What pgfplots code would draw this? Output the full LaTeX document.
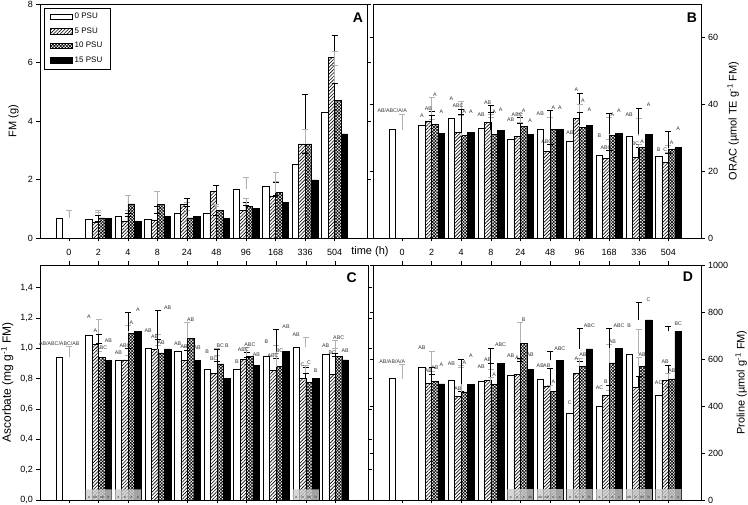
\documentclass[border=0pt]{standalone}
\usepackage{fontspec}
\setmainfont{Liberation Sans}
\usepackage{pgfplots}
\pgfplotsset{compat=1.18}
\usepackage{pgfplotstable}
\usetikzlibrary{patterns.meta}

\pgfplotstableread{
x  w    wt   h    ht   c    ct   b    bt
0  0.67 0.94 0    0    0    0    0    0
1  0.65 0.94 0.53 0.58 0.69 0.87 0.66 0.76
2  0.74 0.96 0.58 0.74 1.17 1.45 0.57 0.85
3  0.65 0.83 0.62 0.83 1.15 1.60 0.74 1.08
4  0.86 1.21 1.16 1.36 0.69 0.94 0.75 1.08
5  0.85 1.08 1.60 1.81 0.95 1.16 0.68 0.78
6  1.68 2.08 0.95 1.23 1.09 1.35 1.00 1.12
7  1.77 2.25 1.42 1.90 1.55 1.94 1.21 1.45
8  2.53 2.93 3.22 4.91 3.22 3.72 1.99 2.89
9  4.30 5.90 6.18 6.94 4.70 6.38 3.56 5.30
}\dataA

\pgfplotstableread{
x w wt h ht c ct b bt lw lh lc lb
0 32.4 37.0 0 0 0 0 0 0 AB/ABC/A/A x x x
1 33.8 35.6 35.0 37.8 34.0 42.0 31.3 36.8 A AB A A
2 35.7 40.8 31.5 38.6 30.6 36.8 31.5 36.9 A ABC A A
3 32.7 36.0 34.5 39.6 31.1 37.0 32.3 37.6 AB AB A A
4 29.6 34.5 30.3 36.0 33.3 37.3 31.1 34.2 AB ABC A A
5 32.4 36.2 25.8 27.9 32.4 38.1 32.4 38.1 AB ABC A A
6 29.0 30.6 35.7 43.4 33.2 40.0 33.7 37.6 AB A A A
7 24.7 29.6 23.8 26.1 30.7 36.0 31.2 37.2 B ABC A A
8 30.4 35.9 24.1 27.2 27.0 28.0 31.0 38.8 AB BC A A
9 24.4 25.6 22.7 25.4 26.5 27.7 27.0 31.8 B C A A
}\dataB

\pgfplotstableread{
x w wt h ht c ct b bt lw lh lc lb
0 0.940 1.013 0 0 0 0 0 0 AB/ABC/ABC/AB x x x
1 1.088 1.190 1.026 1.094 0.940 0.982 0.919 1.033 A A ABC AB
2 0.925 0.954 0.925 0.998 1.099 1.152 1.114 1.235 AB ABC A A
3 1.004 1.095 0.993 1.059 0.971 1.020 0.996 1.248 AB AB AB AB
4 0.980 1.013 0.923 0.989 1.066 1.169 0.923 0.985 AB AB AB AB
5 0.864 0.956 0.835 0.912 0.897 1.000 0.802 0.996 B BC BC B
6 0.864 0.895 0.927 0.971 0.947 1.004 0.886 0.941 B ABC ABC AB
7 0.947 1.022 0.857 0.934 0.879 0.965 0.980 1.125 B ABC BC AB
8 1.007 1.070 0.800 0.873 0.776 0.886 0.800 0.835 AB C C B
9 0.963 1.000 0.830 0.950 0.945 1.050 0.925 0.967 AB BC ABC AB
}\dataC

\pgfplotstableread{
x w wt h ht c ct b bt lw lh lc lb
0 516 576 0 0 0 0 0 0 AB/AB/A/A x x x
1 565 633 496 535 506 549 494 563 AB AB AB A
2 511 565 440 462 460 572 492 599 AB AB A A
3 505 555 509 583 492 521 580 647 AB AB A ABC
4 530 599 533 591 668 755 556 603 AB A B AB
5 515 559 482 559 462 489 594 631 AB AB A ABC
6 369 400 538 589 570 603 643 730 C A AB ABC
7 399 465 445 489 583 661 645 730 AC B AB ABC
8 620 728 479 525 570 606 766 841 B {} AB C
9 445 484 509 574 515 539 718 738 AC AB AB BC
}\dataD

\tikzset{letter/.style={anchor=north east, inner sep=0pt, font=\fontsize{14}{14}\selectfont\bfseries}}

\pgfplotsset{
  panel/.style={scale only axis, width=328pt, height=234pt,
    xmin=-0.98, xmax=10.1, ymin=0,
    xtick={0,...,9}, tick align=outside, major tick length=3.5pt,
    tick style={black, line width=0.6pt},
    axis line style={line width=0.6pt},
    tick label style={font=\fontsize{9}{9}\selectfont},
    label style={font=\fontsize{11}{11}\selectfont},
    /pgf/number format/assume math mode=true,
    ytick pos=both},
  basebar/.style={ybar, bar width=0.22, draw=black, line width=0.5pt, forget plot},
  s0/.style={basebar, bar shift=-0.33, fill=white},
  s1/.style={basebar, bar shift=-0.11, pattern={Lines[angle=45,distance=2.4pt,line width=0.6pt]}},
  s2/.style={basebar, bar shift=0.11, pattern={Hatch[angle=45,distance=2.2pt,line width=0.6pt]}},
  s3/.style={basebar, bar shift=0.33, fill=black},
  e0/.style={error bars/y dir=plus, error bars/y explicit,
    error bars/error bar style={gray!60,line width=0.8pt},
    error bars/error mark options={rotate=90,mark size=3pt,gray!60,line width=0.8pt}},
  e1/.style={error bars/y dir=plus, error bars/y explicit,
    error bars/error bar style={black,line width=0.8pt},
    error bars/error mark options={rotate=90,mark size=3pt,black,line width=0.8pt}},
  lbl/.style={forget plot, draw=none, mark=none, nodes near coords,
    point meta=explicit symbolic,
    nodes near coords style={font=\fontsize{5.3}{5.3}\selectfont, inner sep=0.3pt, anchor=south, yshift=0.8pt, text=black!80}},
  boxlbl/.style={forget plot, draw=none, mark=none, nodes near coords,
    point meta=explicit symbolic,
    nodes near coords style={font=\fontsize{3.8}{3.8}\selectfont, inner sep=0.2pt, anchor=south, text=black!75}},
}

\newcommand\barset[1]{%
  \addplot[s0,e0] table[x=x,y=w,y error expr=\thisrow{wt}-\thisrow{w}]{#1};
  \addplot[s1,e1,skip coords between index={0}{1}] table[x=x,y=h,y error expr=\thisrow{ht}-\thisrow{h}]{#1};
  \addplot[s2,e0,skip coords between index={0}{1}] table[x=x,y=c,y error expr=\thisrow{ct}-\thisrow{c}]{#1};
  \addplot[s3,e1,skip coords between index={0}{1}] table[x=x,y=b,y error expr=\thisrow{bt}-\thisrow{b}]{#1};
}
\newcommand\lblset[1]{%
  \addplot[lbl] table[x expr=\thisrow{x}-0.33,y=wt,meta=lw]{#1};
  \addplot[lbl,skip coords between index={0}{1}] table[x expr=\thisrow{x}-0.11,y=ht,meta=lh]{#1};
  \addplot[lbl,skip coords between index={0}{1}] table[x expr=\thisrow{x}+0.11,y=ct,meta=lc]{#1};
  \addplot[lbl,skip coords between index={0}{1}] table[x expr=\thisrow{x}+0.33,y=bt,meta=lb]{#1};
}

\begin{document}
\begin{tikzpicture}
\path[use as bounding box] (0,0) rectangle (748pt,505pt);

% ---------------- A
\begin{axis}[panel, at={(40pt,267pt)}, anchor=south west, width=327pt,
  ymax=8, ytick={0,2,4,6,8}, xtick pos=left, yticklabel pos=left,
  xticklabels={0,2,4,8,24,48,96,168,336,504},
  xticklabel style={yshift=-4pt},
  ylabel={FM (g)}, ylabel style={at={(axis description cs:-0.081,0.5)}, anchor=center},
  xlabel={time (h)}, xlabel style={at={(axis description cs:1.009,-0.058)}, anchor=center},
  legend style={at={(axis description cs:0.012,0.983)}, anchor=north west, draw=black,
    line width=0.6pt, font=\fontsize{8}{8}\selectfont, inner xsep=6pt, inner ysep=3pt,
    row sep=3.4pt, cells={anchor=west},
    /tikz/every even column/.append style={column sep=3pt}},
]
\addlegendimage{legend image code/.code={\draw[draw=black,line width=0.5pt,fill=white] (0pt,-2.6pt) rectangle (22pt,2.6pt);}}
\addlegendentry{0 PSU}
\addlegendimage{legend image code/.code={\draw[draw=black,line width=0.5pt,pattern={Lines[angle=45,distance=2.4pt,line width=0.6pt]}] (0pt,-2.6pt) rectangle (22pt,2.6pt);}}
\addlegendentry{5 PSU}
\addlegendimage{legend image code/.code={\draw[draw=black,line width=0.5pt,pattern={Hatch[angle=45,distance=2.2pt,line width=0.6pt]}] (0pt,-2.6pt) rectangle (22pt,2.6pt);}}
\addlegendentry{10 PSU}
\addlegendimage{legend image code/.code={\draw[draw=black,line width=0.5pt,fill=black] (0pt,-2.6pt) rectangle (22pt,2.6pt);}}
\addlegendentry{15 PSU}
\barset{\dataA}
\node[letter] at (rel axis cs:0.988,0.962) {A};
\end{axis}

% ---------------- B
\begin{axis}[panel, at={(373pt,267pt)}, anchor=south west,
  ymax=70, ytick={0,20,40,60}, xtick pos=left, yticklabel pos=right,
  xticklabels={0,2,4,8,24,48,96,168,336,504},
  xticklabel style={yshift=-4pt},
  ylabel={ORAC (µmol TE g\textsuperscript{-1} FM)},
  ylabel style={at={(axis description cs:1.098,0.5)}, anchor=center},
]
\barset{\dataB}
\lblset{\dataB}
\node[letter] at (rel axis cs:0.988,0.962) {B};
\end{axis}

% ---------------- C
\begin{axis}[panel, at={(40pt,5pt)}, anchor=south west, height=235pt,
  ymax=1.55, ytick={0,0.2,0.4,0.6,0.8,1.0,1.2,1.4}, xtick pos=both,
  xticklabel=\empty, xticklabel pos=right,
  yticklabel pos=left,
  yticklabel style={/pgf/number format/.cd, fixed, fixed zerofill, precision=1, use comma},
  ylabel={Ascorbate (mg g\textsuperscript{-1} FM)},
  ylabel style={at={(axis description cs:-0.100,0.5)}, anchor=center, font=\fontsize{12}{12}\selectfont},
]
\barset{\dataC}
\addplot[ybar, bar width=0.88, bar shift=0, fill=gray!40, fill opacity=0.8, draw=none, forget plot]
  coordinates {(1,0.07) (2,0.07) (8,0.07)};
\addplot[boxlbl] coordinates {(0.67,0.006)[a] (0.89,0.006)[ab] (1.11,0.006)[ab] (1.33,0.006)[b]
  (1.67,0.006)[a] (1.89,0.006)[a] (2.11,0.006)[a] (2.33,0.006)[a]
  (7.67,0.006)[a] (7.89,0.006)[b] (8.11,0.006)[ab] (8.33,0.006)[b]};
\lblset{\dataC}
\node[letter] at (rel axis cs:0.966,0.970) {C};
\end{axis}

% ---------------- D
\begin{axis}[panel, at={(373pt,5pt)}, anchor=south west, height=235pt,
  ymax=1000, ytick={0,200,400,600,800,1000}, xtick pos=both,
  xticklabel=\empty, xticklabel pos=right,
  yticklabel pos=right,
  yticklabel style={/pgf/number format/1000 sep={}},
  ylabel={Proline (µmol g\textsuperscript{-1} FM)},
  ylabel style={at={(axis description cs:1.122,0.5)}, anchor=center},
]
\barset{\dataD}
\addplot[ybar, bar width=0.88, bar shift=0, fill=gray!40, fill opacity=0.8, draw=none, forget plot]
  coordinates {(4,46) (5,46) (6,46) (7,46) (8,46) (9,46)};
\addplot[boxlbl] coordinates {(3.67,4)[a] (3.89,4)[a] (4.11,4)[a] (4.33,4)[ab]
  (4.67,4)[ab] (4.89,4)[ab] (5.11,4)[a] (5.33,4)[a]
  (5.67,4)[a] (5.89,4)[b] (6.11,4)[b] (6.33,4)[b]
  (6.67,4)[a] (6.89,4)[a] (7.11,4)[a] (7.33,4)[a]
  (7.67,4)[ab] (7.89,4)[b] (8.11,4)[ab] (8.33,4)[b]
  (8.67,4)[a] (8.89,4)[a] (9.11,4)[a] (9.33,4)[a]};
\lblset{\dataD}
\node[letter] at (rel axis cs:0.976,0.970) {D};
\end{axis}
\end{tikzpicture}
\end{document}
